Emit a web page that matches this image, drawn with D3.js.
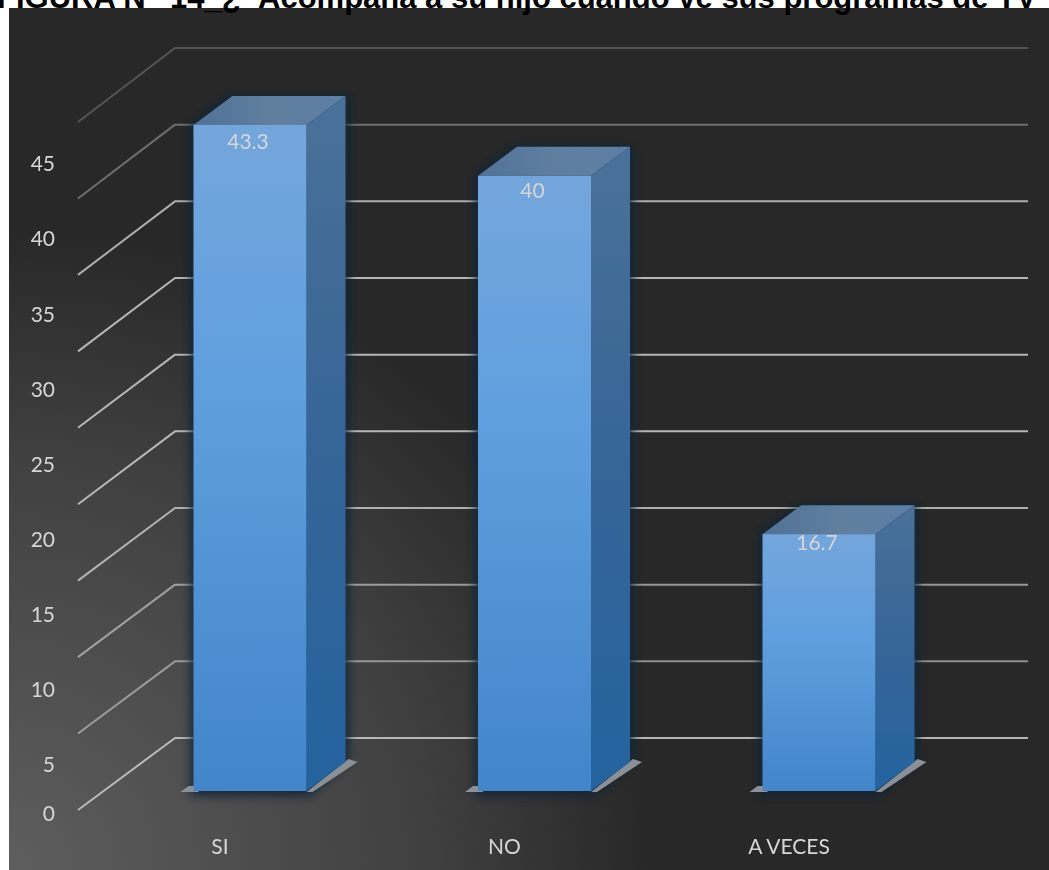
<!DOCTYPE html>
<html><head><meta charset="utf-8">
<script src="https://cdn.jsdelivr.net/npm/d3@7"></script>
<style>html,body{margin:0;padding:0;background:#fff;overflow:hidden}svg{display:block}</style>
</head><body><svg id="c" width="1049" height="870"></svg>
<script>
const titleParts = ["FIGURA N°", "14_¿", "Acompaña a su hijo cuando ve sus programas de TV ?"];
const categories = ["SI", "NO", "A VECES"];
const values = [43.3, 40, 16.7];
const valueLabels = ["43.3", "40", "16.7"];
const gridValues = [0, 5, 10, 15, 20, 25, 30, 35, 40, 45];
const tickLabels = [0, 5, 10, 15, 20, 25, 30, 35, 40, 45];
const gridAlpha = [0.9, 0.65, 0.7, 0.85, 0.9, 0.9, 0.9, 0.85, 0.45, 0.28];
const labelGap = [17, 15, 9];
const titleX = [-3, 170, 258];

const svg = d3.select("#c");
const W = 1049, H = 870;
const defs = svg.append("defs");
function grad(id, stops, attrs) {
  const g = defs.append(attrs && attrs.radial ? "radialGradient" : "linearGradient").attr("id", id);
  if (attrs && attrs.radial) {
    g.attr("gradientUnits", "userSpaceOnUse").attr("cx", attrs.cx).attr("cy", attrs.cy).attr("r", attrs.r);
  } else g.attr("x1", 0).attr("y1", 0).attr("x2", attrs && attrs.h ? 1 : 0).attr("y2", attrs && attrs.h ? 0 : 1);
  stops.forEach(s => g.append("stop").attr("offset", s[0]).attr("stop-color", s[1]));
}
grad("bg", [[0, "#5e5e5e"], [0.65, "#404040"], [1, "#282828"]], {radial: true, cx: 9, cy: 870, r: 640});
grad("face", [[0, "#74a6dc"], [0.4, "#5f9fdf"], [1, "#4285c9"]]);
grad("side", [[0, "#4a7199"], [0.5, "#366597"], [1, "#24639f"]]);
grad("top", [[0, "#4f7298"], [0.5, "#607f9f"], [1, "#5d7fa6"]], {h: true});
const blur = defs.append("filter").attr("id", "glow").attr("x", "-30%").attr("y", "-30%").attr("width", "160%").attr("height", "160%");
blur.append("feGaussianBlur").attr("stdDeviation", 5);
const soft = defs.append("filter").attr("id", "soft");
soft.append("feGaussianBlur").attr("stdDeviation", 0.45);

// panel
svg.append("rect").attr("x", 9).attr("y", 8).attr("width", W - 9).attr("height", H - 8).attr("fill", "url(#bg)");

// scales
const yFront = d3.scaleLinear().domain([0, 45]).range([810, 122]);
const yBack = d3.scaleLinear().domain([0, 45]).range([738, 48]);
const yBar = d3.scaleLinear().domain([0, 43.3]).range([791, 125]);
const yLabel = d3.scaleLinear().domain([0, 5, 45]).range([814, 765, 164]);
const x = d3.scalePoint().domain(categories).range([250, 819]);
const wallX0 = 78, wallX1 = 175, wallEnd = 1028;
const barW = 113, depthX = 39, depthY = 29;

// grid
const grid = svg.append("g").attr("fill", "none").attr("filter", "url(#soft)");
gridValues.forEach((v, i) => {
  grid.append("path")
    .attr("d", d3.line()([[wallX0, yFront(v)], [wallX1, yBack(v)], [wallEnd, yBack(v)]]))
    .attr("stroke", "#c4c4c4").attr("stroke-width", 2).attr("stroke-opacity", gridAlpha[i])
    .attr("stroke-linejoin", "round");
});

// bars
const bars = svg.append("g").selectAll("g").data(categories).join("g");
bars.each(function (c, i) {
  const g = d3.select(this), xL = x(c) - barW / 2, xR = x(c) + barW / 2;
  const yT = yBar(values[i]), yB = yBar(0);
  const poly = pts => d3.line()(pts) + "Z";
  g.append("path").attr("filter", "url(#glow)").attr("fill", "#0c2238").attr("fill-opacity", 0.9)
    .attr("d", poly([[xL - 3, yT], [xL + depthX - 3, yT - depthY], [xR + depthX + 3, yT - depthY], [xR + depthX + 3, yB - depthY], [xR + 3, yB + 5], [xL - 3, yB + 5]]));
  // floor strips
  g.append("path").attr("fill", "#8b9096")
    .attr("d", poly([[xL - 13, yB + 1], [xL - 5, yB - 5], [xL + 5, yB - 5], [xL + 5, yB + 1]]));
  g.append("path").attr("fill", "#8b9096")
    .attr("d", poly([[xR, yB + 1], [xR + 6, yB + 1], [xR + 51, yB - 29], [xR + 42, yB - 32]]));
  g.append("path").attr("fill", "url(#top)")
    .attr("d", poly([[xL, yT], [xL + depthX, yT - depthY], [xR + depthX, yT - depthY], [xR, yT]]));
  g.append("path").attr("fill", "url(#side)")
    .attr("d", poly([[xR, yT], [xR + depthX, yT - depthY], [xR + depthX, yB - depthY], [xR, yB]]));
  g.append("rect").attr("x", xL).attr("y", yT).attr("width", barW).attr("height", yB - yT).attr("fill", "url(#face)");
});

// text
const font = "Lato, 'Open Sans', sans-serif";
const txt = svg.append("g").attr("font-family", font).attr("font-size", 21).attr("fill", "#d6d6d6").attr("filter", "url(#soft)");
txt.selectAll(".tick").data(tickLabels).join("text").attr("class", "tick")
  .attr("x", 55).attr("y", d => yLabel(d)).attr("dy", "0.35em").attr("text-anchor", "end").text(d => d);
txt.selectAll(".val").data(categories).join("text").attr("class", "val")
  .attr("x", d => x(d) - 2).attr("y", (d, i) => yBar(values[i]) + labelGap[i]).attr("dy", "0.35em")
  .attr("text-anchor", "middle").text((d, i) => valueLabels[i]);
txt.selectAll(".cat").data(categories).join("text").attr("class", "cat")
  .attr("x", d => x(d) - 30).attr("y", 847).attr("dy", "0.35em").attr("text-anchor", "middle").text(d => d);

// title
svg.append("g").attr("font-family", "'Liberation Sans', Arial, sans-serif").attr("font-weight", 700)
  .attr("font-size", 31).attr("fill", "#000")
  .selectAll("text").data(titleParts).join("text")
  .attr("x", (d, i) => titleX[i]).attr("y", 8).text(d => d);
</script></body></html>
